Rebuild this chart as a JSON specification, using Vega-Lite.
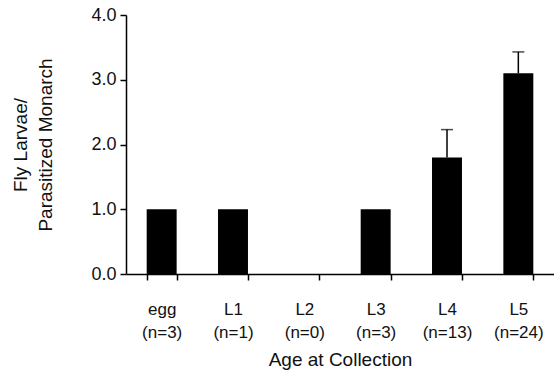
{
  "$schema": "https://vega.github.io/schema/vega-lite/v6.json",
  "autosize": {"type": "none"},
  "padding": {"left": 126, "top": 15, "right": 0, "bottom": 99},
  "width": 428,
  "height": 259,
  "background": "white",
  "config": {
    "view": {"stroke": null},
    "font": "Liberation Sans",
    "axis": {"labelFont": "Liberation Sans", "titleFont": "Liberation Sans", "labelColor": "#111", "titleColor": "#111", "titleFontWeight": "normal", "domainColor": "black", "tickColor": "black", "grid": false}
  },
  "data": {
    "values": [
      {"stage": "egg (n=3)", "value": 1.0, "upper": null},
      {"stage": "L1 (n=1)", "value": 1.0, "upper": null},
      {"stage": "L2 (n=0)", "value": 0, "upper": null},
      {"stage": "L3 (n=3)", "value": 1.0, "upper": null},
      {"stage": "L4 (n=13)", "value": 1.8, "upper": 2.23},
      {"stage": "L5 (n=24)", "value": 3.1, "upper": 3.43}
    ]
  },
  "layer": [
    {
      "mark": {"type": "bar", "color": "black"},
      "encoding": {
        "x": {
          "field": "stage", "type": "nominal", "sort": null,
          "scale": {"paddingInner": 0.58, "paddingOuter": 0.29},
          "axis": {
            "title": "Age at Collection", "titleFontSize": 19, "titlePadding": 10,
            "labelExpr": "datum.value ? split(datum.value, ' ') : ''", "labelAngle": 0, "labelFontSize": 17,
            "labelPadding": 21, "labelLineHeight": 23,
            "tickBand": "extent", "tickSize": 6, "tickWidth": 1.5, "domainWidth": 1.5
          }
        },
        "y": {
          "field": "value", "type": "quantitative",
          "scale": {"domain": [0, 4], "nice": false},
          "axis": {
            "title": ["Fly Larvae/", "Parasitized Monarch"], "titleFontSize": 19, "titlePadding": 35,
            "titleLineHeight": 25,
            "values": [0, 1, 2, 3, 4], "format": ".1f", "labelFontSize": 18,
            "tickSize": 6, "tickWidth": 1.5, "domainWidth": 1.5, "labelPadding": 4
          }
        }
      }
    },
    {
      "mark": {"type": "rule", "color": "black", "strokeWidth": 1.5},
      "encoding": {
        "x": {"field": "stage", "type": "nominal", "sort": null},
        "y": {"field": "value", "type": "quantitative"},
        "y2": {"field": "upper"}
      }
    },
    {
      "mark": {"type": "tick", "color": "black", "thickness": 1.5, "size": 12, "orient": "horizontal"},
      "encoding": {
        "x": {"field": "stage", "type": "nominal", "sort": null},
        "y": {"field": "upper", "type": "quantitative"}
      }
    }
  ]
}
